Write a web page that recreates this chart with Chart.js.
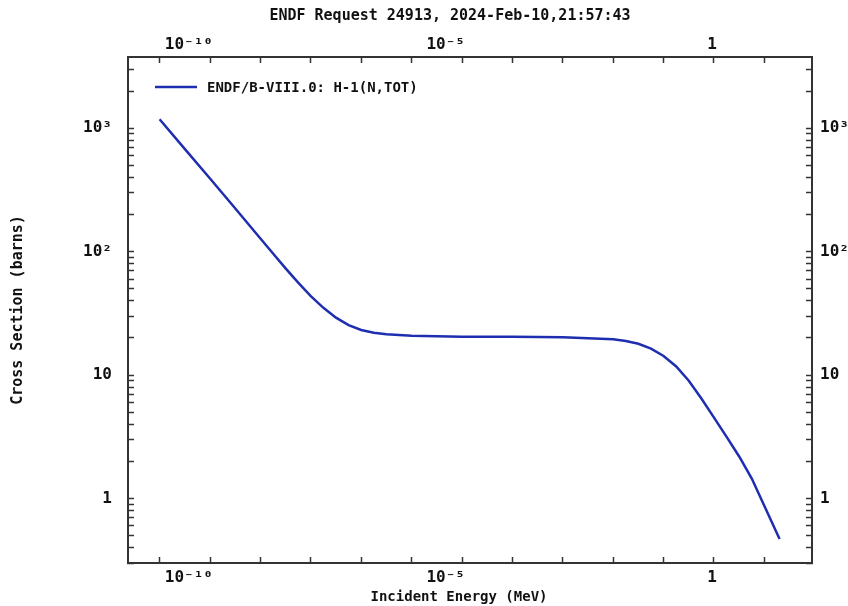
<!DOCTYPE html>
<html>
<head>
<meta charset="utf-8">
<title>ENDF Request 24913</title>
<script src="https://cdn.jsdelivr.net/npm/chart.js@4.4.0/dist/chart.umd.min.js"></script>
<style>
  html, body { margin: 0; padding: 0; background: #fff; }
  #wrap { width: 848px; height: 606px; }
</style>
</head>
<body>
<div id="wrap"><canvas id="xs" width="848" height="606"></canvas></div>
<script>
  // ===== Data =====
  const seriesLabel = 'ENDF/B-VIII.0: H-1(N,TOT)';
  const energyMeV = [1e-11, 3e-11, 1e-10, 3e-10, 1e-9, 1.78e-9, 3.16e-9, 5.62e-9, 1e-8, 1.78e-8, 3.16e-8, 5.62e-8,
                     1e-7, 1.78e-7, 3.16e-7, 1e-6, 1e-5, 1e-4, 1e-3,
                     1e-2, 1.78e-2, 3.16e-2, 5.62e-2, 0.1, 0.178, 0.316, 0.562, 1, 1.78, 3.16, 5.62, 10, 20];
  const sigmaBarns = [1183, 698, 392, 230, 128, 96.6, 73.3, 56.2, 43.7, 35.1, 29.2, 25.4,
                      23.2, 22.0, 21.4, 20.8, 20.5, 20.45, 20.3,
                      19.5, 18.9, 17.95, 16.4, 14.3, 11.75, 9.0, 6.46, 4.52, 3.16, 2.19, 1.45, 0.87, 0.47];

  const xTickValues = [1e-10, 1e-5, 1];
  const xTickLabels = ['10⁻¹⁰', '10⁻⁵', '1'];
  const yTickValues = [1, 10, 100, 1000];
  const yTickLabels = ['1', '10', '10²', '10³'];

  const titleText = 'ENDF Request 24913, 2024-Feb-10,21:57:43';
  const xTitle = 'Incident Energy (MeV)';
  const yTitle = 'Cross Section (barns)';

  const xMin = 2.36e-12, xMax = 88;
  const yMin = 0.30, yMax = 3784;

  // ===== Styles =====
  const lineColor = '#1f2eb0';
  const frameColor = '#333';
  const textColor = '#111';
  const mono = 'DejaVu Sans Mono';
  const tickFont = { family: mono, weight: 'bold', size: 16 };

  // ===== Helpers =====
  const near = (a, b) => Math.abs(Math.log10(a) - Math.log10(b)) < 1e-6;
  function labelFor(values, labels){
    return (v) => {
      const i = values.findIndex(t => near(t, v));
      return i >= 0 ? labels[i] : '';
    };
  }
  function decades(lo, hi, minor){
    const out = [];
    for (let e = Math.floor(Math.log10(lo)); e <= Math.ceil(Math.log10(hi)); e++) {
      const steps = minor ? 9 : 1;
      for (let m = 1; m <= steps; m++) {
        const v = m * Math.pow(10, e);
        if (v >= lo && v <= hi) out.push({ value: v });
      }
    }
    return out;
  }

  function xAxis(pos){
    return {
      type: 'logarithmic', position: pos, min: xMin, max: xMax,
      border: { display: true, color: frameColor, width: 2 },
      grid: { display: true, drawOnChartArea: false, drawTicks: true, tickLength: -6, tickColor: frameColor, tickWidth: 1.5 },
      ticks: { autoSkip: false, maxRotation: 0, minRotation: 0, align: 'end', labelOffset: 3,
               padding: pos === 'top' ? 9 : 11, color: textColor, font: tickFont,
               callback: labelFor(xTickValues, xTickLabels) },
      afterBuildTicks: s => { s.ticks = decades(xMin, xMax, false); },
      afterFit: s => { s.height = pos === 'top' ? 57 : 43; }
    };
  }
  function yAxis(pos){
    return {
      type: 'logarithmic', position: pos, min: yMin, max: yMax,
      border: { display: true, color: frameColor, width: 2 },
      grid: { display: true, drawOnChartArea: false, drawTicks: true, tickLength: -6, tickColor: frameColor, tickWidth: 1.5 },
      ticks: { autoSkip: false, padding: pos === 'left' ? 22 : 14, color: textColor, font: tickFont,
               callback: labelFor(yTickValues, yTickLabels) },
      title: pos === 'left'
        ? { display: true, text: yTitle, color: textColor, font: { family: mono, weight: 'bold', size: 15 }, padding: { top: 9, bottom: 0 } }
        : { display: false },
      afterBuildTicks: s => { s.ticks = decades(yMin, yMax, true); },
      afterFit: s => { s.width = pos === 'left' ? 128 : 36; }
    };
  }

  // title, x title and the in-plot legend
  const decor = {
    id: 'decor',
    afterDraw(chart){
      const ctx = chart.ctx;
      const a = chart.chartArea;
      const ds = chart.data.datasets[0];
      ctx.save();
      ctx.fillStyle = textColor;
      ctx.textAlign = 'center';
      ctx.textBaseline = 'middle';
      ctx.font = `bold 15px "${mono}"`;
      ctx.fillText(titleText, 450, 16);
      ctx.font = `bold 14px "${mono}"`;
      ctx.fillText(xTitle, 459, 597);

      const ly = a.top + 30;
      ctx.strokeStyle = ds.borderColor;
      ctx.lineWidth = ds.borderWidth;
      ctx.beginPath();
      ctx.moveTo(a.left + 27, ly);
      ctx.lineTo(a.left + 69, ly);
      ctx.stroke();
      ctx.textAlign = 'left';
      ctx.fillText(ds.label, a.left + 79, ly + 1);
      ctx.restore();
    }
  };

  new Chart(document.getElementById('xs'), {
    type: 'line',
    data: {
      datasets: [{
        label: seriesLabel,
        data: energyMeV.map((e, i) => ({ x: e, y: sigmaBarns[i] })),
        borderColor: lineColor,
        borderWidth: 2.5,
        pointRadius: 0,
        tension: 0,
        fill: false,
        xAxisID: 'x', yAxisID: 'y'
      }]
    },
    options: {
      responsive: false,
      animation: false,
      layout: { padding: 0 },
      plugins: { legend: { display: false }, title: { display: false }, tooltip: { enabled: false } },
      scales: {
        x: xAxis('bottom'),
        x2: xAxis('top'),
        y: yAxis('left'),
        y2: yAxis('right')
      }
    },
    plugins: [decor]
  });
</script>
</body>
</html>
